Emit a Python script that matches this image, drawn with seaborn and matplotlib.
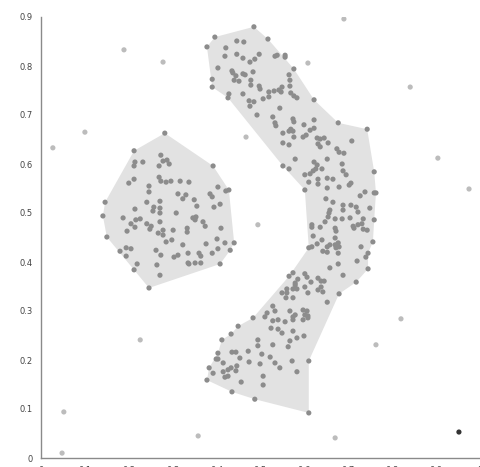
import numpy as np
import pandas as pd
import matplotlib
matplotlib.use("Agg")
import matplotlib.pyplot as plt
import seaborn as sns

# ---------------- data ----------------
# cluster A (left blob)
blob_x = [0.282,0.212,0.273,0.278,0.287,0.292,0.214,0.232,0.212,0.269,0.392,0.212,0.200,0.269,0.273,0.285,0.296,0.317,0.337,0.246,
          0.246,0.312,0.330,0.323,0.349,0.403,0.421,0.428,0.385,0.390,0.408,0.394,0.355,0.271,0.257,0.271,0.255,0.271,0.241,0.214,
          0.146,0.141,0.187,0.216,0.226,0.205,0.214,0.196,0.241,0.251,0.248,0.271,0.308,0.346,0.353,0.351,0.369,0.374,0.333,0.333,
          0.301,0.278,0.267,0.278,0.298,0.285,0.410,0.401,0.376,0.419,0.440,0.403,0.431,0.390,0.323,0.150,0.180,0.194,0.205,0.194,
          0.262,0.273,0.303,0.312,0.335,0.360,0.364,0.335,0.337,0.351,0.364,0.408,0.219,0.212,0.264,0.271,0.246]
blob_y = [0.663,0.627,0.618,0.606,0.608,0.600,0.604,0.604,0.596,0.596,0.596,0.569,0.561,0.573,0.565,0.563,0.565,0.565,0.563,0.555,
          0.543,0.539,0.537,0.529,0.527,0.553,0.545,0.547,0.539,0.533,0.518,0.512,0.514,0.524,0.512,0.510,0.504,0.500,0.522,0.508,
          0.522,0.494,0.490,0.486,0.488,0.478,0.471,0.463,0.478,0.473,0.467,0.482,0.500,0.490,0.492,0.486,0.482,0.473,0.469,0.461,
          0.465,0.465,0.459,0.455,0.445,0.441,0.469,0.447,0.437,0.439,0.439,0.427,0.424,0.418,0.435,0.451,0.422,0.429,0.427,0.412,
          0.424,0.414,0.410,0.414,0.418,0.418,0.412,0.398,0.396,0.398,0.398,0.396,0.396,0.384,0.394,0.373,0.347]

# cluster B (arc)
arc_x = [0.485,0.396,0.378,0.517,0.446,0.462,0.421,0.419,0.446,0.460,0.476,0.487,0.497,0.538,0.533,0.556,0.556,0.403,0.435,0.437,
         0.444,0.460,0.465,0.483,0.478,0.478,0.440,0.451,0.390,0.390,0.497,0.499,0.565,0.567,0.576,0.567,0.549,0.542,0.531,0.519,
         0.519,0.506,0.547,0.569,0.576,0.583,0.460,0.428,0.426,0.474,0.485,0.476,0.544,0.492,0.622,0.528,0.533,0.535,0.574,0.576,
         0.551,0.569,0.574,0.565,0.576,0.597,0.604,0.613,0.622,0.622,0.599,0.677,0.743,0.708,0.629,0.636,0.645,0.631,0.636,0.654,
         0.674,0.679,0.690,0.551,0.565,0.579,0.551,0.565,0.622,0.629,0.626,0.620,0.601,0.613,0.640,0.652,0.686,0.688,0.695,0.759,
         0.610,0.631,0.652,0.665,0.631,0.652,0.679,0.702,0.706,0.601,0.738,0.759,0.763,0.727,
         0.649,0.665,0.688,0.706,0.718,0.749,0.658,0.688,0.722,0.656,0.654,0.670,0.686,0.704,0.734,0.759,0.647,0.636,0.617,0.617,
         0.670,0.672,0.711,0.722,0.731,0.713,0.734,0.743,0.620,0.670,0.640,0.629,0.658,0.670,0.677,0.679,0.672,0.729,0.756,0.610,
         0.617,0.652,0.642,0.652,0.677,0.745,0.740,
         0.658,0.677,0.688,0.720,0.745,0.718,0.679,0.574,0.565,0.601,0.606,0.585,0.579,0.615,0.631,0.638,0.645,0.579,0.601,0.574,
         0.638,0.631,0.642,0.560,0.549,0.560,0.583,0.608,0.558,0.574,0.652,0.528,0.533,0.567,0.597,0.606,0.579,0.515,0.510,0.483,
         0.601,0.608,0.574,0.597,0.608,0.528,0.540,0.556,0.574,0.524,0.540,0.549,0.574,0.599,0.583,
         0.449,0.433,0.412,0.435,0.444,0.472,0.494,0.494,0.528,0.563,0.567,0.503,0.403,0.399,0.403,0.415,0.453,0.474,0.499,0.522,
         0.533,0.544,0.572,0.610,0.383,0.392,0.415,0.426,0.433,0.446,0.444,0.426,0.419,0.583,0.506,0.378,0.456,0.506,0.435,0.487,
         0.610]
arc_y = [0.880,0.859,0.839,0.855,0.851,0.849,0.837,0.820,0.824,0.816,0.808,0.814,0.824,0.822,0.820,0.822,0.818,0.796,0.790,0.786,
         0.780,0.784,0.782,0.788,0.771,0.761,0.771,0.769,0.773,0.757,0.759,0.753,0.782,0.771,0.794,0.759,0.757,0.751,0.749,0.747,
         0.737,0.733,0.747,0.745,0.739,0.735,0.743,0.743,0.735,0.729,0.727,0.718,0.714,0.700,0.731,0.696,0.684,0.678,0.692,0.686,
         0.663,0.671,0.667,0.667,0.655,0.655,0.659,0.669,0.673,0.690,0.680,0.684,0.671,0.647,0.653,0.651,0.653,0.641,0.635,0.643,
         0.631,0.624,0.622,0.643,0.639,0.610,0.596,0.590,0.604,0.598,0.590,0.586,0.578,0.580,0.590,0.610,0.600,0.586,0.578,0.584,
         0.563,0.569,0.571,0.569,0.559,0.551,0.553,0.557,0.561,0.547,0.543,0.541,0.541,0.535,
         0.529,0.522,0.516,0.516,0.512,0.510,0.506,0.506,0.502,0.500,0.492,0.488,0.488,0.490,0.488,0.486,0.482,0.471,0.476,0.471,
         0.469,0.463,0.473,0.476,0.478,0.469,0.467,0.465,0.453,0.449,0.445,0.437,0.435,0.435,0.439,0.431,0.429,0.431,0.441,0.429,
         0.431,0.431,0.422,0.420,0.418,0.418,0.410,
         0.388,0.396,0.373,0.402,0.386,0.359,0.335,0.378,0.371,0.376,0.369,0.365,0.357,0.359,0.367,0.361,0.361,0.353,0.349,0.345,
         0.349,0.343,0.339,0.345,0.337,0.337,0.345,0.337,0.327,0.327,0.318,0.310,0.300,0.300,0.302,0.300,0.292,0.296,0.288,0.286,
         0.292,0.290,0.282,0.282,0.286,0.280,0.282,0.278,0.288,0.265,0.263,0.255,0.259,0.249,0.245,
         0.269,0.253,0.241,0.216,0.216,0.218,0.229,0.241,0.231,0.227,0.239,0.212,0.214,0.202,0.202,0.194,0.204,0.196,0.192,0.206,
         0.194,0.184,0.198,0.198,0.184,0.173,0.176,0.180,0.184,0.188,0.178,0.167,0.165,0.176,0.167,0.159,0.155,0.149,0.135,0.120,
         0.092]
# outline of the arc cluster, as indices into arc_x / arc_y
arc_outline = [2,1,0,3,34,54,71,72,99,112,129,152,159,165,166,167,239,256,255,254,251,240,228,218,217,216,200,169,153,109,86,48,29]

# noise points
noise_x = [0.027,0.189,0.278,0.100,0.467,0.494,0.608,0.690,0.841,0.904,0.975,0.820,0.763,0.226,0.052,0.048,0.358,0.670]
noise_y = [0.633,0.833,0.808,0.665,0.655,0.476,0.806,0.896,0.757,0.612,0.549,0.284,0.231,0.241,0.094,0.010,0.045,0.041]

# highlighted point
hi_x = [0.952]
hi_y = [0.053]

x_ticks = [0, 0.1, 0.2, 0.3, 0.4, 0.5, 0.6, 0.7, 0.8, 0.9, 1.0]
y_ticks = [0, 0.1, 0.2, 0.3, 0.4, 0.5, 0.6, 0.7, 0.8, 0.9]

# ---------------- plot ----------------
sns.set_style("white")
plt.rcParams["font.family"] = ["DejaVu Sans"]

df = pd.concat([
    pd.DataFrame({"x": blob_x, "y": blob_y, "kind": "cluster"}),
    pd.DataFrame({"x": arc_x, "y": arc_y, "kind": "cluster"}),
    pd.DataFrame({"x": noise_x, "y": noise_y, "kind": "noise"}),
    pd.DataFrame({"x": hi_x, "y": hi_y, "kind": "highlight"}),
], ignore_index=True)

fig = plt.figure(figsize=(4.81, 4.67), dpi=100)
ax = fig.add_axes([41 / 481, 9 / 467, 439 / 481, 441 / 467])

def convex_hull(px, py):
    pts = sorted(set(zip(px, py)))
    def cross(o, a, b):
        return (a[0] - o[0]) * (b[1] - o[1]) - (a[1] - o[1]) * (b[0] - o[0])
    lower, upper = [], []
    for p in pts:
        while len(lower) >= 2 and cross(lower[-2], lower[-1], p) <= 0:
            lower.pop()
        lower.append(p)
    for p in reversed(pts):
        while len(upper) >= 2 and cross(upper[-2], upper[-1], p) <= 0:
            upper.pop()
        upper.append(p)
    return lower[:-1] + upper[:-1]

hull_fill = "#e2e2e2"
hb = convex_hull(blob_x, blob_y)
ax.fill([p[0] for p in hb], [p[1] for p in hb], color=hull_fill, lw=0, zorder=0)
ax.fill([arc_x[i] for i in arc_outline], [arc_y[i] for i in arc_outline], color=hull_fill, lw=0, zorder=0)

sns.scatterplot(data=df, x="x", y="y", hue="kind",
                palette={"cluster": "#8c8c8c", "noise": "#bcbcbc", "highlight": "#333333"},
                s=14, linewidth=0, legend=False, ax=ax, zorder=3)

ax.set_xlim(0, 1.0)
ax.set_ylim(0, 0.9)
ax.set_xticks(x_ticks)
ax.set_yticks(y_ticks)
ax.set_xticklabels(["0" if v == 0 else f"{v:g}" for v in x_ticks])
ax.set_yticklabels(["0" if v == 0 else f"{v:g}" for v in y_ticks])
ax.set_xlabel("")
ax.set_ylabel("")
for s in ["top", "right"]:
    ax.spines[s].set_visible(False)
for s in ["left", "bottom"]:
    ax.spines[s].set_color("#8a8a8a")
    ax.spines[s].set_linewidth(1.0)
ax.tick_params(axis="both", direction="inout", length=6, width=0.8, color="#8a8a8a",
               labelsize=6, labelcolor="#444444", pad=3)
ax.set_facecolor("white")
fig.patch.set_facecolor("white")

fig.savefig("out.png", dpi=100)
